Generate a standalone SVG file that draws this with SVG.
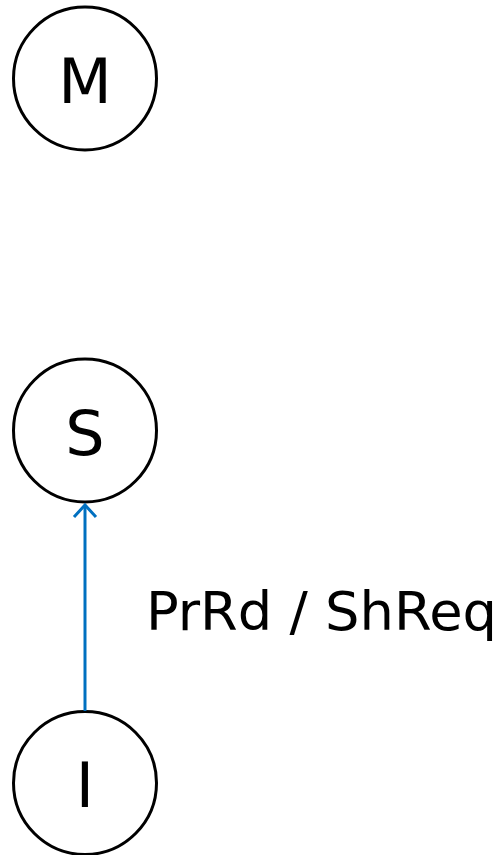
<svg xmlns="http://www.w3.org/2000/svg" width="501" height="855" viewBox="0 0 501 855">
<style>
.node{fill:#fff;stroke:#000;stroke-width:3}
.lbl{font-family:"DejaVu Sans",Verdana,sans-serif;fill:#000}
.big{font-size:62px;text-anchor:middle}
.edge{fill:none;stroke:#0070C0;stroke-width:3}
</style>
<rect width="501" height="855" fill="#fff"/>
<g id="node-M"><circle class="node" cx="85" cy="78.5" r="71.5"/><text class="lbl big" x="85" y="103">M</text></g>
<g id="node-S"><circle class="node" cx="85" cy="430.5" r="71.5"/><text class="lbl big" x="85" y="455">S</text></g>
<g id="node-I"><circle class="node" cx="85" cy="783" r="71.5"/><text class="lbl big" x="85" y="807">I</text></g>
<g id="connectors">
<line class="edge" x1="85" y1="711" x2="85" y2="505"/>
<polyline class="edge" points="74,517 85,505 96,517"/>
<text class="lbl" x="146" y="630" font-size="53" textLength="351" lengthAdjust="spacingAndGlyphs">PrRd / ShReq</text>
</g>
</svg>
